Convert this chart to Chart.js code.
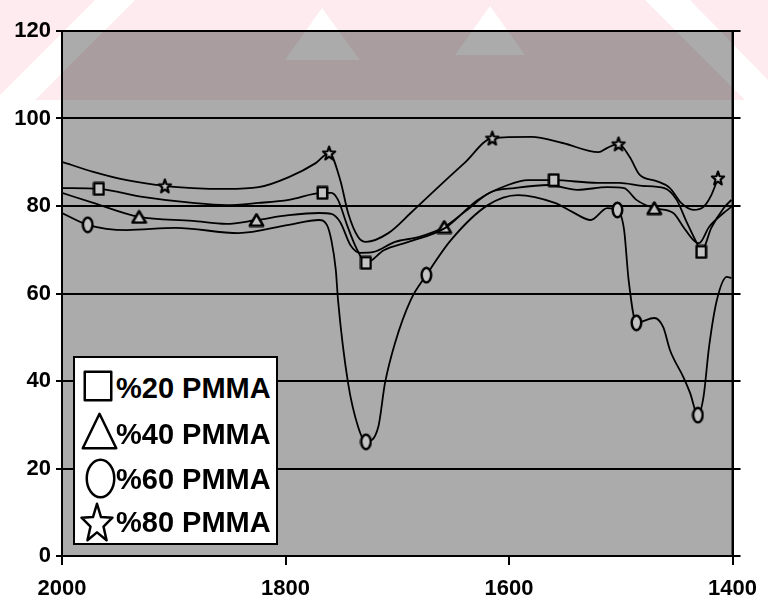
<!DOCTYPE html>
<html>
<head>
<meta charset="utf-8">
<script src="https://cdn.jsdelivr.net/npm/chart.js@4/dist/chart.umd.min.js"></script>
<style>
  body { margin: 0; background: #fff; }
  #wrap { position: relative; width: 768px; height: 612px; }
  #legend {
    position: absolute; left: 73px; top: 356px; width: 205px; height: 189px;
    background: #fff; border: 2px solid #000; box-sizing: border-box;
    font-family: "Liberation Sans", Arial, sans-serif; font-weight: bold;
  }
  #legend canvas, #legend span { position: absolute; }
  #legend span { font-size: 29px; line-height: 30px; color: #000; white-space: nowrap; }
</style>
</head>
<body>
<div id="wrap">
  <canvas id="chart"></canvas>
  <div id="legend"></div>
</div>
<script>
// wavenumber (cm-1) and transmittance (%)
const sqWn = [2000, 1967, 1928, 1883, 1853, 1824, 1797, 1767, 1759, 1753, 1745, 1737, 1728, 1712, 1690, 1657, 1628, 1601, 1583, 1560, 1521, 1501, 1481, 1461, 1450, 1441, 1432, 1428, 1419, 1408, 1401];
const sqT = [84.1, 83.9, 82.1, 80.7, 80.2, 80.7, 81.4, 83.0, 83.0, 81.4, 75.7, 70.6, 67.0, 69.9, 71.8, 75.0, 81.4, 84.8, 85.9, 85.9, 85.3, 85.3, 84.6, 84.1, 81.4, 76.3, 71.5, 69.5, 75.0, 79.5, 81.4];
const sqMarks = [1967, 1767, 1728, 1560, 1428];

const triWn = [2000, 1972, 1931, 1883, 1853, 1826, 1797, 1770, 1759, 1751, 1742, 1733, 1721, 1702, 1681, 1658, 1640, 1616, 1595, 1565, 1539, 1512, 1497, 1486, 1470, 1453, 1444, 1435, 1430, 1421, 1408, 1401];
const triT = [83.0, 80.7, 77.5, 76.6, 75.9, 76.8, 77.9, 78.4, 78.2, 76.3, 71.1, 69.3, 69.5, 71.8, 72.9, 75.2, 78.6, 83.2, 84.1, 84.8, 83.7, 84.3, 84.1, 81.4, 79.5, 78.4, 75.2, 72.2, 71.5, 75.2, 78.4, 79.8];
const triMarks = [1931, 1826, 1658, 1470];

const cirWn = [2000, 1977, 1942, 1898, 1842, 1797, 1770, 1763, 1759, 1755, 1753, 1744, 1735, 1728, 1717, 1711, 1702, 1688, 1674, 1652, 1619, 1592, 1559, 1543, 1527, 1512, 1503, 1497, 1493, 1486, 1470, 1462, 1456, 1444, 1438, 1431, 1426, 1421, 1414, 1405, 1401];
const cirT = [78.4, 75.7, 74.5, 75.0, 73.8, 75.7, 76.8, 75.7, 72.2, 65.4, 58.5, 39.5, 29.5, 26.1, 29.5, 39.5, 48.7, 58.5, 64.2, 72.2, 80.2, 82.5, 80.7, 78.6, 76.8, 79.5, 79.1, 74.5, 63.1, 53.3, 54.4, 52.3, 47.1, 40.9, 37.3, 32.2, 36.3, 47.8, 58.5, 63.8, 63.5];
const cirMarks = [1977, 1728, 1674, 1503, 1486, 1431];

const starWn = [2000, 1972, 1942, 1908, 1883, 1853, 1824, 1797, 1773, 1761, 1751, 1744, 1735, 1728, 1708, 1688, 1666, 1640, 1615, 1580, 1552, 1520, 1512, 1502, 1492, 1483, 1468, 1456, 1446, 1435, 1426, 1419, 1413];
const starT = [90.1, 87.8, 85.9, 84.6, 84.1, 83.9, 84.3, 86.6, 89.8, 92.1, 85.9, 78.4, 72.9, 71.8, 73.8, 78.4, 83.7, 89.8, 95.5, 95.8, 94.4, 92.3, 93.3, 94.2, 91.2, 87.1, 85.7, 84.1, 80.7, 79.1, 79.8, 82.5, 86.4];
const starMarks = [1908, 1761, 1615, 1502, 1413];

const seriesNames = ['%20 PMMA', '%40 PMMA', '%60 PMMA', '%80 PMMA'];
const xTicks = [2000, 1800, 1600, 1400];

function makeMarker(shape, w, h, lw, fill) {
    const c = document.createElement('canvas');
    c.width = w;
    c.height = h;
    const g = c.getContext('2d');
    g.lineWidth = lw;
    g.strokeStyle = '#000';
    g.fillStyle = fill;
    g.lineJoin = 'round';
    const p = lw / 2 + 0.5;
    g.beginPath();
    if (shape === 'square') {
        g.rect(p, p, w - 2 * p, h - 2 * p);
    } else if (shape === 'triangle') {
        g.moveTo(w / 2, p);
        g.lineTo(w - p, h - p);
        g.lineTo(p, h - p);
        g.closePath();
    } else if (shape === 'circle') {
        g.ellipse(w / 2, h / 2, w / 2 - p, h / 2 - p, 0, 0, 2 * Math.PI);
    } else {
        const rx = w / 2 - p;
        const ry = (h - 2 * p) / 1.809;
        const cy = p + ry;
        for (let i = 0; i < 10; i++) {
            const a = -Math.PI / 2 + i * Math.PI / 5;
            const r = i % 2 ? 0.42 : 1;
            g.lineTo(w / 2 + Math.cos(a) * r * rx, cy + Math.sin(a) * r * ry);
        }
        g.closePath();
    }
    g.fill();
    g.stroke();
    return c;
}

const markerFill = '#c4c4c4';
const styles = [
    makeMarker('square', 13, 15, 2.5, markerFill),
    makeMarker('triangle', 17, 15, 2.5, markerFill),
    makeMarker('circle', 13, 18, 2.5, markerFill),
    makeMarker('star', 16, 16, 2.2, markerFill)
];

function points(wn, t) {
    return wn.map((x, i) => ({ x: x, y: t[i] }));
}

function makeDataset(label, wn, t, marks, style) {
    return {
        label: label,
        data: points(wn, t),
        borderColor: '#000',
        borderWidth: 1.8,
        cubicInterpolationMode: 'monotone',
        pointStyle: style,
        pointRadius: ctx => (ctx.raw && marks.includes(ctx.raw.x)) ? 7 : 0,
        fill: false
    };
}

// page backdrop: faint pink watermark band, grey plot area and frame
const backdrop = {
    id: 'backdrop',
    beforeDraw(chart) {
        const { ctx, chartArea: a, width } = chart;
        ctx.save();
        ctx.fillStyle = '#fff';
        ctx.fillRect(0, 0, width, chart.height);
        ctx.fillStyle = '#fdebef';
        ctx.fillRect(0, 0, width, 100);
        ctx.fillStyle = '#fff';
        const stripes = [
            [[95, 0], [135, 0], [35, 100], [0, 100], [0, 95]],
            [[322, 8], [360, 60], [285, 60]],
            [[490, 6], [525, 55], [455, 55]],
            [[645, 0], [690, 0], [768, 80], [768, 100], [745, 100]]
        ];
        stripes.forEach(poly => {
            ctx.beginPath();
            poly.forEach(([x, y]) => ctx.lineTo(x, y));
            ctx.closePath();
            ctx.fill();
        });
        ctx.globalCompositeOperation = 'multiply';
        ctx.fillStyle = '#ababab';
        ctx.fillRect(a.left, a.top, a.right - a.left, a.bottom - a.top);
        ctx.restore();
    },
    afterDraw(chart) {
        const { ctx, chartArea: a } = chart;
        ctx.save();
        ctx.strokeStyle = '#000';
        ctx.lineWidth = 2;
        ctx.strokeRect(a.left, a.top, a.right - a.left, a.bottom - a.top);
        ctx.restore();
    }
};

const tickFont = { family: '"Liberation Sans", Arial, sans-serif', size: 22, weight: 'bold' };

new Chart(document.getElementById('chart'), {
    type: 'line',
    data: {
        datasets: [
            makeDataset(seriesNames[0], sqWn, sqT, sqMarks, styles[0]),
            makeDataset(seriesNames[1], triWn, triT, triMarks, styles[1]),
            makeDataset(seriesNames[2], cirWn, cirT, cirMarks, styles[2]),
            makeDataset(seriesNames[3], starWn, starT, starMarks, styles[3])
        ]
    },
    options: {
        responsive: true,
        maintainAspectRatio: false,
        animation: false,
        events: [],
        layout: { padding: { top: 31, right: 24, left: 0, bottom: 0 } },
        plugins: { legend: { display: false }, tooltip: { enabled: false } },
        scales: {
            x: {
                type: 'linear',
                min: 1400,
                max: 2000,
                reverse: true,
                afterBuildTicks: s => { s.ticks = xTicks.map(v => ({ value: v })); },
                afterFit: s => { s.height = 56; },
                ticks: { color: '#000', font: tickFont, padding: 11, maxRotation: 0, callback: v => String(v) },
                grid: { drawOnChartArea: false, color: '#000', lineWidth: 2, tickLength: 9 },
                border: { color: '#000', width: 2 }
            },
            y: {
                min: 0,
                max: 120,
                afterFit: s => { s.width = 62; },
                ticks: { stepSize: 20, color: '#000', font: tickFont, padding: 5 },
                grid: { color: '#000', lineWidth: 2, tickLength: 6 },
                border: { color: '#000', width: 2 }
            },
            y2: {
                position: 'right',
                min: 0,
                max: 120,
                afterFit: s => { s.width = 8; },
                ticks: { stepSize: 20, display: false },
                grid: { drawOnChartArea: false, color: '#000', lineWidth: 2, tickLength: 8 },
                border: { color: '#000', width: 2 }
            }
        }
    },
    plugins: [backdrop]
});

// legend box drawn inside the plot, bottom-left
const legendBox = document.getElementById('legend');
const legendSymbols = [
    makeMarker('square', 30, 32, 2.5, '#fff'),
    makeMarker('triangle', 37, 38, 2.5, '#fff'),
    makeMarker('circle', 31, 41, 2.5, '#fff'),
    makeMarker('star', 36, 40, 2.5, '#fff')
];
const symbolPos = [[8, 12], [6, 54], [10, 100], [4, 144]];
const textTop = [15, 61, 106, 149];
seriesNames.forEach((name, i) => {
    const c = legendSymbols[i];
    c.style.left = symbolPos[i][0] + 'px';
    c.style.top = symbolPos[i][1] + 'px';
    legendBox.appendChild(c);
    const s = document.createElement('span');
    s.textContent = name;
    s.style.left = '41px';
    s.style.top = textTop[i] + 'px';
    legendBox.appendChild(s);
});
</script>
</body>
</html>
